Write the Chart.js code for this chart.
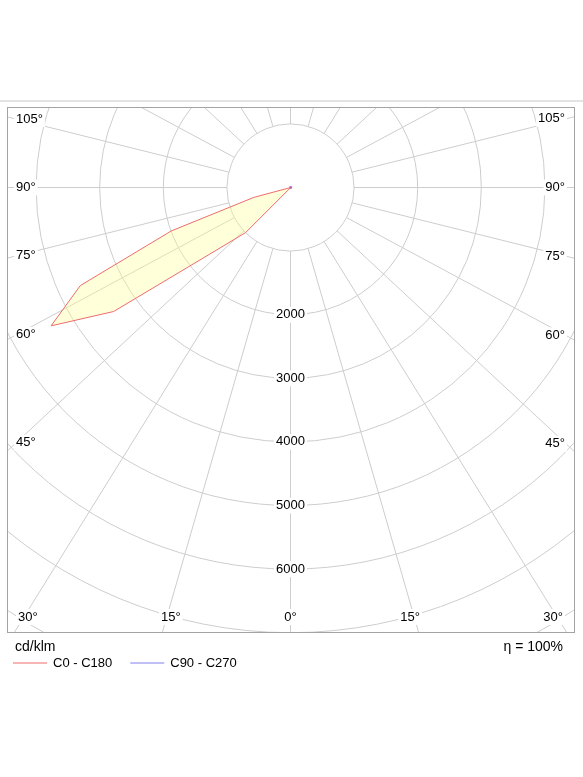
<!DOCTYPE html>
<html>
<head>
<meta charset="utf-8">
<script src="https://cdn.jsdelivr.net/npm/chart.js@4.4.1/dist/chart.umd.min.js"></script>
<style>
  html, body { margin: 0; padding: 0; background: #fff; }
  #linhaTopo { position: absolute; left: 0; top: 100px; width: 583px; height: 2px; background: #e3e3e3; }
  #grafico { position: absolute; left: 0; top: 0; }
</style>
</head>
<body>
<div id="linhaTopo"></div>
<canvas id="grafico" width="583" height="777"></canvas>
<script>
// Ângulos gama (graus, 0 = para baixo)
const angulosGama = [0, 5, 10, 15, 20, 25, 30, 35, 40, 45, 50, 55, 60, 65, 70, 75, 80, 85, 90,
    95, 100, 105, 110, 115, 120, 125, 130, 135, 140, 145, 150, 155, 160, 165, 170, 175, 180];

// Intensidades (cd/klm)
const intensidadeC180 = [0, 0, 0, 0, 0, 0, 0, 0, 0, 1000, 1550, 3400, 4350, 3650, 2000, 600, 0, 0, 0,
    0, 0, 0, 0, 0, 0, 0, 0, 0, 0, 0, 0, 0, 0, 0, 0, 0, 0];
const intensidadeC0 = [0, 0, 0, 0, 0, 0, 0, 0, 0, 0, 0, 0, 0, 0, 0, 0, 0, 0, 0,
    0, 0, 0, 0, 0, 0, 0, 0, 0, 0, 0, 0, 0, 0, 0, 0, 0, 0];
const intensidadeC90 = [0, 0, 0, 0, 0, 0, 0, 0, 0, 0, 0, 0, 0, 0, 0, 0, 0, 0, 0,
    0, 0, 0, 0, 0, 0, 0, 0, 0, 0, 0, 0, 0, 0, 0, 0, 0, 0];
const intensidadeC270 = [0, 0, 0, 0, 0, 0, 0, 0, 0, 0, 0, 0, 0, 0, 0, 0, 0, 0, 0,
    0, 0, 0, 0, 0, 0, 0, 0, 0, 0, 0, 0, 0, 0, 0, 0, 0, 0];

// Grade polar
const aneis = [1000, 2000, 3000, 4000, 5000, 6000, 7000, 8000, 9000];
const rotulosAneis = [2000, 3000, 4000, 5000, 6000];
const angulosRaios = [0, 15, 30, 45, 60, 75, 90, 105, 120, 135, 150, 165, 180];
const rotulosLaterais = [105, 90, 75, 60, 45, 30];
const rotulosBase = [15, 0];
const legendas = ['C0 - C180', 'C90 - C270'];
const unidade = 'cd/klm';
const rendimento = 'η = 100%';

// Geometria da página
const centro = { x: 290.7, y: 187.5 };
const pxPor1000 = 63.6;
const area = { left: 8, top: 107, right: 574, bottom: 632 };
const esticarRaios = 1.075;   // os raios do original são um pouco esticados na horizontal
const esticarRotulos = 1.04;
const fonte = "13px 'Liberation Sans', Arial, sans-serif";

// Converte as duas metades de um plano C em pontos x/y (sem repetir pontos iguais)
function pontosPlano(angulos, esquerda, direita) {
    const pontos = [];
    const junta = (x, y) => {
        const ult = pontos[pontos.length - 1];
        if (ult && Math.abs(ult.x - x) < 1e-6 && Math.abs(ult.y - y) < 1e-6) return;
        pontos.push({ x: x + 0, y: y + 0 });
    };
    angulos.forEach((g, i) => {
        const r = g * Math.PI / 180;
        junta(-esquerda[i] * Math.sin(r), -esquerda[i] * Math.cos(r));
    });
    for (let i = angulos.length - 1; i >= 0; i--) {
        const r = angulos[i] * Math.PI / 180;
        junta(direita[i] * Math.sin(r), -direita[i] * Math.cos(r));
    }
    return pontos;
}

function direcaoRaio(g, lado, k) {
    const r = g * Math.PI / 180;
    const dx = lado * k * Math.sin(r);
    const dy = Math.cos(r);
    const n = Math.hypot(dx, dy);
    return { dx: dx / n, dy: dy / n };
}

function textoComFundo(ctx, texto, x, y, alinhamento) {
    ctx.font = fonte;
    const w = ctx.measureText(texto).width;
    let x0 = x;
    if (alinhamento === 'center') x0 = x - w / 2;
    if (alinhamento === 'right') x0 = x - w;
    ctx.fillStyle = '#fff';
    ctx.fillRect(x0 - 2, y - 8, w + 4, 16);
    ctx.fillStyle = '#000';
    ctx.textAlign = 'left';
    ctx.textBaseline = 'middle';
    ctx.fillText(texto, x0, y);
}

// centro da grade alinhado a meio pixel para as linhas ficarem nítidas
function centroGrade(chart) {
    const { x, y } = chart.scales;
    return {
        cx: Math.round(x.getPixelForValue(0) - 0.5) + 0.5,
        cy: Math.round(y.getPixelForValue(0) - 0.5) + 0.5
    };
}

const gradePolar = {
    id: 'gradePolar',
    beforeDatasetsDraw(chart) {
        const { ctx, chartArea: a, scales: { x } } = chart;
        const { cx, cy } = centroGrade(chart);
        const raio = v => x.getPixelForValue(v) - x.getPixelForValue(0);

        ctx.save();
        ctx.beginPath();
        ctx.rect(a.left, a.top, a.right - a.left, a.bottom - a.top);
        ctx.clip();
        ctx.strokeStyle = '#cdcdcd';
        ctx.lineWidth = 1;
        aneis.forEach(v => {
            ctx.beginPath();
            ctx.arc(cx, cy, raio(v), 0, 2 * Math.PI);
            ctx.stroke();
        });
        const r0 = raio(aneis[0]);
        [-1, 1].forEach(lado => {
            angulosRaios.forEach(g => {
                const d = direcaoRaio(g, lado, esticarRaios);
                ctx.beginPath();
                ctx.moveTo(cx + d.dx * r0, cy + d.dy * r0);
                ctx.lineTo(cx + d.dx * r0 * 15, cy + d.dy * r0 * 15);
                ctx.stroke();
            });
        });
        ctx.restore();

        // moldura
        ctx.save();
        ctx.strokeStyle = '#a3a3a3';
        ctx.lineWidth = 1;
        ctx.strokeRect(a.left - 0.5, a.top + 0.5, a.right - a.left + 1, a.bottom - a.top);
        ctx.restore();
    },
    afterDraw(chart) {
        const { ctx, chartArea: a, scales: { y } } = chart;
        const { cx, cy } = centroGrade(chart);
        ctx.save();

        // rótulos dos anéis
        rotulosAneis.forEach(v => {
            textoComFundo(ctx, String(v), cx, y.getPixelForValue(-v), 'center');
        });

        // rótulos dos ângulos
        const colEsq = a.left + 17, colDir = a.right - 17, linhaBase = a.bottom - 15;
        const desenhaAngulo = (g, lado) => {
            const d = direcaoRaio(g, lado, esticarRotulos);
            const col = lado < 0 ? colEsq : colDir;
            const tLado = Math.abs(d.dx) > 1e-6 ? Math.abs(col - cx) / Math.abs(d.dx) : Infinity;
            const tBase = d.dy > 0 ? (linhaBase - cy) / d.dy : Infinity;
            const texto = g + '°';
            if (tLado <= tBase) {
                const yy = cy + tLado * d.dy;
                if (lado < 0) textoComFundo(ctx, texto, a.left + 8, yy, 'left');
                else textoComFundo(ctx, texto, a.right - 9, yy, 'right');
            } else if (g === 30) {
                if (lado < 0) textoComFundo(ctx, texto, a.left + 10, linhaBase, 'left');
                else textoComFundo(ctx, texto, a.right - 11, linhaBase, 'right');
            } else {
                textoComFundo(ctx, texto, cx + tBase * d.dx, linhaBase, 'center');
            }
        };
        [-1, 1].forEach(lado => {
            rotulosLaterais.forEach(g => desenhaAngulo(g, lado));
            rotulosBase.forEach(g => {
                if (g === 0 && lado > 0) return;
                desenhaAngulo(g, lado);
            });
        });

        // unidade e rendimento
        ctx.font = "14px 'Liberation Sans', Arial, sans-serif";
        ctx.fillStyle = '#000';
        ctx.textBaseline = 'middle';
        ctx.textAlign = 'left';
        ctx.fillText(unidade, 15, 647);
        ctx.textAlign = 'right';
        ctx.fillText(rendimento, 563, 647);

        // legenda
        let lx = 13;
        const ly = 663;
        chart.data.datasets.forEach(ds => {
            ctx.strokeStyle = ds.borderColor;
            ctx.lineWidth = 1;
            ctx.beginPath();
            ctx.moveTo(lx, ly);
            ctx.lineTo(lx + 34, ly);
            ctx.stroke();
            ctx.font = fonte;
            ctx.fillStyle = '#000';
            ctx.textAlign = 'left';
            ctx.fillText(ds.label, lx + 40, ly);
            lx += 40 + ctx.measureText(ds.label).width + 18;
        });
        ctx.restore();
    }
};

const escala = pxPor1000 / 1000;

new Chart(document.getElementById('grafico').getContext('2d'), {
    type: 'line',
    data: {
        datasets: [
            {
                label: legendas[0],
                data: pontosPlano(angulosGama, intensidadeC180, intensidadeC0),
                borderColor: '#ee6b6b',
                borderWidth: 1,
                backgroundColor: 'rgba(255, 255, 140, 0.33)',
                fill: 'shape',
                tension: 0,
                pointRadius: 0,
                clip: false
            },
            {
                label: legendas[1],
                data: pontosPlano(angulosGama, intensidadeC270, intensidadeC90),
                borderColor: '#8080ee',
                backgroundColor: '#a060d0',
                borderWidth: 1,
                fill: false,
                pointRadius: 1.4,
                pointBorderWidth: 0,
                pointBackgroundColor: '#a060d0',
                clip: false
            }
        ]
    },
    options: {
        responsive: false,
        animation: false,
        events: [],
        layout: {
            padding: { left: area.left, top: area.top, right: 583 - area.right, bottom: 777 - area.bottom }
        },
        scales: {
            x: {
                type: 'linear',
                display: false,
                min: -(centro.x - area.left) / escala,
                max: (area.right - centro.x) / escala
            },
            y: {
                type: 'linear',
                display: false,
                min: -(area.bottom - centro.y) / escala,
                max: (centro.y - area.top) / escala
            }
        },
        plugins: {
            legend: { display: false },
            tooltip: { enabled: false }
        }
    },
    plugins: [gradePolar]
});
</script>
</body>
</html>
